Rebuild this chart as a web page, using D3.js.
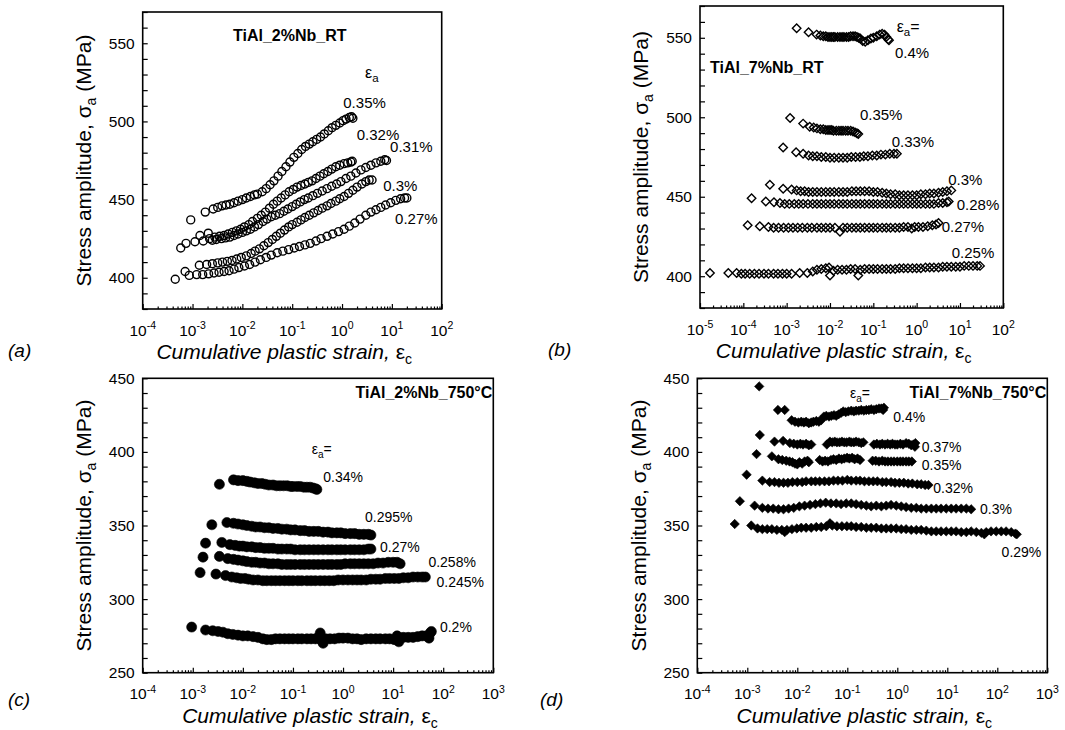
<!DOCTYPE html>
<html>
<head>
<meta charset="utf-8">
<script src="https://cdn.jsdelivr.net/npm/d3@7"></script>
<style>
  body { margin: 0; background: #fff; }
  svg text { font-family: "Liberation Sans", Arial, sans-serif; fill: #000; }
</style>
</head>
<body>
<svg id="chart" width="1065" height="730"></svg>
<script>
// ---- panel (a) TiAl_2%Nb_RT : [cumulative plastic strain, stress amplitude]
const a035 = [[9.2e-4,437],[1.8e-3,442],[2.6e-3,444],[3.2e-3,445],[3.9e-3,446],[4.7e-3,446.5],[5.6e-3,447],[6.8e-3,448],[8.2e-3,449],[0.01,450],[0.012,451],[0.0145,452],[0.0175,453],[0.02,453.5],[0.025,455],[0.03,457],[0.036,459.5],[0.043,462],[0.052,465],[0.062,468],[0.075,471],[0.09,474],[0.108,477],[0.13,479.5],[0.155,482],[0.185,484],[0.22,485.5],[0.26,487],[0.31,488.5],[0.37,490],[0.44,492],[0.53,494],[0.63,496],[0.75,497.5],[0.9,499],[1.05,500.5],[1.2,501.5],[1.4,502.5],[1.55,503],[1.65,502]];
const a032 = [[5.8e-4,419],[1.12e-3,423],[1.64e-3,423.5],[2.2e-3,425],[2.8e-3,426],[3.5e-3,426.5],[4.3e-3,427],[5.2e-3,428],[6.3e-3,429],[7.6e-3,430],[9.2e-3,431],[0.011,432.5],[0.0135,434],[0.016,436],[0.02,438],[0.024,440],[0.029,442],[0.035,444.5],[0.042,447],[0.05,449],[0.06,451],[0.072,453],[0.087,455],[0.105,456.5],[0.125,458],[0.15,459],[0.18,460],[0.21,461],[0.25,462],[0.3,463.5],[0.36,465],[0.43,466.5],[0.52,468],[0.62,469.5],[0.75,471],[0.9,472],[1.1,473],[1.3,473.5],[1.5,474],[1.6,474.5]];
const a031 = [[7.4e-4,422],[1.41e-3,427],[2.07e-3,428.5],[2.5e-3,424],[3e-3,424.5],[3.8e-3,425],[4.6e-3,425.5],[5.6e-3,426],[6.8e-3,427],[8.2e-3,428],[0.01,429],[0.012,430],[0.0145,431],[0.0175,432.5],[0.021,434],[0.026,436],[0.031,437.5],[0.038,439],[0.046,440],[0.056,441],[0.068,442.5],[0.082,444],[0.1,445.5],[0.12,447],[0.145,448.5],[0.175,450],[0.21,451],[0.26,452.5],[0.32,454],[0.4,455.5],[0.5,457],[0.62,458.5],[0.78,460],[0.95,461.5],[1.2,463.5],[1.5,465],[1.9,467],[2.4,469],[3,470.5],[3.8,472],[4.8,473.5],[6,474.5],[7.2,475.5],[7.8,475]];
const a030 = [[7.1e-4,404],[1.37e-3,408],[1.92e-3,408.5],[2.5e-3,409],[3.2e-3,409.5],[4e-3,410],[5e-3,410.5],[6.2e-3,411],[7.7e-3,412],[9.5e-3,413],[0.012,414],[0.015,415.5],[0.018,417],[0.022,418.5],[0.027,420.5],[0.033,422.5],[0.04,424.5],[0.048,426.5],[0.058,428.5],[0.07,430.5],[0.085,432.5],[0.1,434],[0.125,435.5],[0.15,437],[0.18,438.5],[0.22,440],[0.27,441.5],[0.33,443],[0.4,444.5],[0.5,446],[0.6,447.5],[0.75,449],[0.9,450.5],[1.1,452],[1.35,454],[1.65,456],[2,458],[2.5,460],[3,461.5],[3.5,462.5],[4,462.5]];
const a027 = [[4.5e-4,399],[8.6e-4,401.5],[1.21e-3,402],[1.6e-3,402],[2.1e-3,402.5],[2.7e-3,403],[3.4e-3,403.5],[4.3e-3,404],[5.4e-3,404.5],[6.8e-3,405.5],[8.5e-3,406.5],[0.011,407.5],[0.014,408.5],[0.018,410],[0.023,411.5],[0.03,413],[0.038,414.5],[0.05,416],[0.065,417],[0.085,418],[0.11,419],[0.14,420],[0.18,421],[0.23,422],[0.3,423.5],[0.38,425],[0.5,426.5],[0.65,428],[0.85,429.5],[1.1,431],[1.4,433],[1.8,435],[2.3,437.5],[3,440],[3.8,442],[4.8,443.5],[6,445],[7.5,446.5],[9.5,448],[12,449.5],[15,450.5],[18,451],[20,451]];

// ---- panel (b) TiAl_7%Nb_RT
const b040 = [[1.7e-3,556],[3.2e-3,553.5],[4.9e-3,552],[6e-3,551.5],[7e-3,551],[8e-3,551],[9e-3,550.5],[0.01,550.5],[0.011,550.5],[0.012,550.5],[0.013,550.5],[0.015,550.5],[0.017,550.5],[0.019,550.5],[0.021,550.5],[0.024,550.5],[0.027,550.5],[0.03,551],[0.034,551],[0.038,551],[0.042,550.5],[0.046,550],[0.05,549.5],[0.057,548],[0.065,547.5],[0.075,548.5],[0.088,549.5],[0.1,550],[0.12,551],[0.14,552],[0.16,552.5],[0.18,552],[0.2,550.5],[0.22,549],[0.23,548.5]];
const b035 = [[1.2e-3,499.5],[2.4e-3,496],[3.4e-3,494],[4.2e-3,493.5],[5e-3,493],[6e-3,492.5],[7e-3,492.5],[8e-3,492],[9e-3,492],[0.01,492],[0.011,492],[0.012,491.5],[0.014,491.5],[0.016,491.5],[0.018,491.5],[0.02,491.5],[0.023,491.5],[0.026,491.5],[0.03,491.5],[0.034,491],[0.038,490.5],[0.042,490],[0.045,489.5]];
const b033 = [[8.3e-4,481],[1.65e-3,478],[2.4e-3,477],[3.2e-3,476],[4e-3,475.5],[5e-3,475.5],[6.3e-3,475],[8e-3,475],[0.01,474.5],[0.0125,474.5],[0.016,474.5],[0.02,474.5],[0.025,474.5],[0.031,475],[0.039,475],[0.049,475],[0.06,475.5],[0.075,475.5],[0.095,476],[0.12,476],[0.15,476.5],[0.19,476.5],[0.24,477],[0.3,477],[0.35,477]];
const b030 = [[4.1e-4,457.5],[8.3e-4,455],[1.3e-3,454.5],[1.7e-3,454],[2.1e-3,453.5],[2.6e-3,453.5],[3.2e-3,453],[4e-3,453],[5e-3,453],[6.3e-3,453],[8e-3,453],[0.01,453],[0.0125,453],[0.016,453],[0.02,453],[0.025,453],[0.032,453.5],[0.04,453.5],[0.05,453.5],[0.063,453.5],[0.08,453.5],[0.1,453],[0.125,453],[0.16,452.5],[0.2,452],[0.25,451.5],[0.32,451.5],[0.4,451],[0.5,451],[0.63,451],[0.8,451],[1,451],[1.25,451.5],[1.6,451.5],[2,452],[2.5,452],[3.2,452.5],[4,453],[5,453.5],[6.3,454]];
const b028 = [[1.55e-4,449],[3.3e-4,447],[5.1e-4,446.5],[7e-4,446],[9e-4,445.5],[1.15e-3,445.5],[1.5e-3,445.5],[1.9e-3,445.5],[2.4e-3,445.5],[3.1e-3,445.5],[4e-3,445.5],[5e-3,445.5],[6.3e-3,445.5],[8e-3,445.5],[0.01,445.5],[0.0125,445.5],[0.016,445.5],[0.02,445.5],[0.025,445.5],[0.032,445.5],[0.04,445.5],[0.05,445.5],[0.063,445.5],[0.08,445.5],[0.1,445.5],[0.125,445.5],[0.16,445.5],[0.2,445.5],[0.25,445.5],[0.32,445.5],[0.4,445.5],[0.5,445.5],[0.63,445.5],[0.8,445.5],[1,445.5],[1.25,445.5],[1.6,445.5],[2,445.5],[2.5,445.5],[3.2,446],[4,446],[5,446.5],[5.5,447]];
const b027 = [[1.26e-4,432],[2.4e-4,431.5],[3.8e-4,431],[5e-4,430.5],[6.5e-4,430.5],[8.5e-4,430.5],[1.1e-3,430.5],[1.4e-3,430.5],[1.8e-3,430.5],[2.3e-3,430.5],[3e-3,430.5],[3.8e-3,430.5],[5e-3,430.5],[6.3e-3,430.5],[8e-3,430.5],[0.01,430.5],[0.013,430.5],[0.017,428],[0.02,430.5],[0.025,430.5],[0.032,430.5],[0.04,430.5],[0.05,430.5],[0.063,430.5],[0.08,430.5],[0.1,430.5],[0.125,430.5],[0.16,430.5],[0.2,430.5],[0.25,430.5],[0.32,430.5],[0.4,430.5],[0.5,431],[0.63,431],[0.77,430],[0.9,431],[1.1,431],[1.4,431],[1.8,431.5],[2.3,432],[2.8,432.5],[3.2,433.5]];
const b025 = [[1.7e-5,402],[4.5e-5,402],[7e-5,402],[9e-5,401.5],[1.1e-4,401.5],[1.4e-4,401.5],[1.8e-4,401.5],[2.3e-4,401.5],[3e-4,401.5],[3.8e-4,401.5],[5e-4,401.5],[6.3e-4,401.5],[8e-4,401.5],[1e-3,401.5],[1.3e-3,401.5],[2e-3,402],[3e-3,402],[4e-3,403],[5e-3,404],[6.3e-3,404.5],[8e-3,405],[9.5e-3,405.5],[0.01,400.5],[0.012,403.5],[0.015,404],[0.019,404],[0.024,404],[0.03,404.5],[0.038,404.5],[0.045,400.5],[0.05,404],[0.063,404.5],[0.08,404.5],[0.1,404.5],[0.125,404.5],[0.16,404.5],[0.2,404.5],[0.25,404.5],[0.32,404.5],[0.4,405],[0.5,405],[0.63,405],[0.8,405],[1,405],[1.25,405],[1.6,405.5],[2,405.5],[2.5,405.5],[3.2,405.5],[4,406],[5,406],[6.3,406],[8,406],[10,406],[12.5,406.5],[16,406.5],[20,406.5],[25,406.5],[29,406.5]];

// ---- panel (c) TiAl_2%Nb_750°C
const c034 = [[3.4e-3,378],[6.5e-3,381],[8e-3,380.5],[0.01,380.5],[0.012,380],[0.014,379.5],[0.017,379],[0.02,378.5],[0.024,378.5],[0.028,378],[0.033,377.5],[0.04,377.5],[0.047,377],[0.055,377],[0.065,377],[0.077,377],[0.09,376.5],[0.1,376.5],[0.12,376.5],[0.14,376.5],[0.165,376],[0.19,376],[0.22,376],[0.25,375.5],[0.28,375],[0.3,374.5]];
const c0295 = [[2.4e-3,350.5],[4.8e-3,352],[6.5e-3,351.5],[8e-3,351],[0.01,350.5],[0.012,350],[0.015,349.5],[0.018,349],[0.022,349],[0.027,348.5],[0.033,348.5],[0.04,348],[0.05,348],[0.06,347.5],[0.075,347.5],[0.09,347],[0.11,347],[0.14,346.5],[0.17,346.5],[0.21,346],[0.26,346],[0.32,346],[0.4,345.5],[0.5,345.5],[0.6,345],[0.75,345],[0.9,345],[1.1,344.5],[1.4,344.5],[1.7,344.5],[2.1,344],[2.6,344],[3.2,344],[3.6,343.5]];
const c027 = [[1.8e-3,338],[3.8e-3,338.5],[5.5e-3,337],[7e-3,336.5],[8.5e-3,336],[0.01,336],[0.012,335.5],[0.015,335.5],[0.018,335],[0.022,335],[0.027,334.5],[0.033,334.5],[0.04,334.5],[0.05,334],[0.06,334],[0.075,334],[0.09,334],[0.11,333.5],[0.14,333.5],[0.17,333.5],[0.21,333.5],[0.26,333.5],[0.32,333.5],[0.4,333.5],[0.5,333.5],[0.6,333.5],[0.75,333.5],[0.9,333.5],[1.1,333.5],[1.4,333.5],[1.7,333.5],[2.1,333.5],[2.6,333.5],[3.2,334],[3.6,334]];
const c0258 = [[1.6e-3,328.5],[3.4e-3,329],[5e-3,327.5],[6.5e-3,327],[8e-3,326.5],[0.01,326],[0.012,325.5],[0.015,325],[0.018,325],[0.022,324.5],[0.027,324.5],[0.033,324],[0.04,324],[0.05,324],[0.06,323.5],[0.075,323.5],[0.09,323.5],[0.11,323.5],[0.14,323.5],[0.17,323.5],[0.21,323.5],[0.26,323.5],[0.32,323.5],[0.4,323.5],[0.5,323.5],[0.6,323.5],[0.75,323.5],[0.9,323.5],[1.1,324],[1.4,324],[1.7,324],[2.1,324],[2.6,324],[3.2,324],[4,324],[5,324.5],[6.3,324.5],[8,325],[10,325],[12,325],[13.8,324]];
const c0245 = [[1.4e-3,318],[2.9e-3,317],[4.5e-3,316],[6e-3,315],[7.5e-3,314.5],[9e-3,314],[0.011,314],[0.013,313.5],[0.016,313],[0.02,313],[0.025,312.5],[0.03,312.5],[0.037,312.5],[0.045,312.5],[0.055,312.5],[0.068,312.5],[0.083,312.5],[0.1,312.5],[0.125,312.5],[0.15,312.5],[0.19,312.5],[0.23,312.5],[0.28,312.5],[0.35,312.5],[0.43,312.5],[0.53,312.5],[0.65,312.5],[0.8,313],[1,313],[1.25,313],[1.55,313],[1.9,313],[2.3,313],[2.9,313],[3.6,313.5],[4.5,313.5],[5.5,313.5],[7,314],[8.5,314],[10.5,314],[13,314],[16,314.5],[20,314.5],[25,315],[31,315],[38,315],[44,315]];
const c020 = [[9.5e-4,281],[1.8e-3,279],[2.5e-3,278.5],[3.2e-3,278],[4e-3,277.5],[5e-3,276.5],[6.3e-3,276],[8e-3,275.5],[0.01,275],[0.0125,275],[0.016,274.5],[0.02,274],[0.025,273],[0.03,272.5],[0.037,272.5],[0.045,273],[0.055,273],[0.068,273],[0.083,273],[0.1,273],[0.125,273],[0.15,273],[0.19,273],[0.23,273],[0.28,273],[0.32,274],[0.35,277],[0.37,272],[0.4,270],[0.45,273],[0.55,273],[0.68,273],[0.83,273.5],[1,273.5],[1.25,273.5],[1.55,273],[1.9,273],[2.3,272.5],[2.9,273],[3.6,273],[4.5,273],[5.5,273],[7,273],[8.5,273],[10.5,272.5],[12,275],[13,271],[16,274],[20,274],[25,274],[31,274.5],[38,275],[46,275],[52,273.5],[55,277],[58,278]];

// ---- panel (d) TiAl_7%Nb_750°C
const d040 = [[1.73e-3,444.5],[4.1e-3,428.5],[5.6e-3,428.5],[7.7e-3,421.5],[9e-3,420.5],[0.0105,420],[0.012,420.5],[0.0135,420],[0.015,420.5],[0.017,419.5],[0.019,420],[0.021,420.5],[0.024,421],[0.027,420.5],[0.03,421.5],[0.034,424],[0.038,424.5],[0.043,424],[0.048,424.5],[0.054,425],[0.06,424.5],[0.067,425.5],[0.075,426.5],[0.083,427.5],[0.093,427],[0.105,427.5],[0.12,428],[0.135,427.5],[0.15,428],[0.17,428],[0.19,428.5],[0.215,428],[0.24,428.5],[0.27,428.5],[0.3,429],[0.34,428.5],[0.38,429],[0.43,429.5],[0.48,429.5],[0.52,428.5],[0.54,430]];
const d037 = [[1.78e-3,411.5],[3.5e-3,407],[5.2e-3,407.5],[7.1e-3,406],[8.5e-3,405.5],[0.01,405],[0.0115,405.5],[0.013,405],[0.015,405.5],[0.017,404.5],[0.019,405],[0.039,405],[0.045,407],[0.05,406.5],[0.056,407],[0.062,406.5],[0.07,406.5],[0.078,407],[0.087,406.5],[0.097,406.5],[0.11,407],[0.12,406.5],[0.135,406.5],[0.15,407],[0.17,406.5],[0.19,406],[0.21,406.5],[0.34,405],[0.39,405.5],[0.45,405],[0.5,405.5],[0.57,405],[0.64,405.5],[0.72,405],[0.8,405.5],[0.9,405],[1,405],[1.15,405.5],[1.3,405],[1.5,406],[1.7,405.5],[1.9,404.5],[2.1,405],[2.25,403.5],[2.3,406]];
const d035 = [[1.53e-3,398.5],[3.1e-3,397],[4.2e-3,395],[5e-3,394.5],[6e-3,394],[7e-3,393.5],[8e-3,393],[9e-3,392],[0.01,391.5],[0.011,393],[0.0125,392],[0.014,393.5],[0.016,394],[0.017,393],[0.028,394.5],[0.032,393.5],[0.036,394],[0.041,393.5],[0.047,394.5],[0.053,395],[0.06,394.5],[0.068,395.5],[0.077,395],[0.087,395.5],[0.099,396],[0.11,395.5],[0.125,396],[0.14,395],[0.16,395.5],[0.18,394.5],[0.32,394],[0.37,394],[0.43,393.5],[0.5,394],[0.57,393.5],[0.65,393.5],[0.75,393.5],[0.86,393.5],[1,393.5],[1.15,393.5],[1.3,393.5],[1.5,393.5],[1.7,393.5],[1.95,393.5]];
const d032 = [[9.7e-4,384.5],[2e-3,380.5],[2.8e-3,379.5],[3.5e-3,379.5],[4.3e-3,379],[5.3e-3,379],[6.5e-3,379],[8e-3,379.5],[0.01,379.5],[0.0125,379.5],[0.015,380],[0.019,380],[0.023,380],[0.028,380],[0.035,380],[0.043,380],[0.053,380.5],[0.065,380.5],[0.08,380.5],[0.1,381],[0.12,380.5],[0.15,380.5],[0.18,380.5],[0.22,380],[0.27,380],[0.33,380],[0.4,380],[0.5,379.5],[0.6,379.5],[0.75,379.5],[0.9,379],[1.1,379],[1.35,379],[1.65,378.5],[2,378.5],[2.5,378],[3,378],[3.6,377.5],[4.2,377.5]];
const d030 = [[7.1e-4,366.5],[1.4e-3,363.5],[2e-3,362],[2.6e-3,361.5],[3.3e-3,361.5],[4.2e-3,361],[5.3e-3,361],[6.7e-3,361.5],[8.5e-3,362],[0.011,363],[0.014,363.5],[0.018,364],[0.023,364.5],[0.029,365],[0.037,365.5],[0.047,365],[0.06,365],[0.075,364.5],[0.095,365],[0.12,365],[0.15,364.5],[0.19,364],[0.24,363.5],[0.3,363],[0.38,363.5],[0.48,363],[0.6,363.5],[0.75,364],[0.95,363.5],[1.2,363],[1.5,362.5],[1.9,362],[2.4,362],[3,361.5],[3.8,361.5],[4.8,361.5],[6,361.5],[7.5,361.5],[9.5,361.5],[12,361.5],[15,361.5],[19,361.5],[24,361.5],[30,361]];
const d029 = [[5.6e-4,351],[1.2e-3,350],[1.6e-3,348],[2e-3,347.5],[2.5e-3,347.5],[3.1e-3,347.5],[3.9e-3,347],[4.9e-3,347],[5.6e-3,345.5],[6.2e-3,347],[7.8e-3,347.5],[9.8e-3,348],[0.012,348.5],[0.015,348.5],[0.019,348.5],[0.024,349],[0.03,349],[0.038,349.5],[0.045,351.5],[0.05,350],[0.062,349.5],[0.078,349.5],[0.098,349.5],[0.12,349.5],[0.15,349],[0.19,349],[0.24,348.5],[0.3,348.5],[0.38,348.5],[0.48,348],[0.6,348],[0.75,348],[0.95,348],[1.2,347.5],[1.5,347.5],[1.9,347],[2.4,347],[3,347],[3.8,346.5],[4.8,346],[6,346],[7.5,346],[9.5,346],[12,346],[15,346],[19,345.5],[24,345.5],[30,346],[38,345.5],[48,345],[55,344],[60,345.5],[75,346],[95,346],[120,346],[150,346],[190,345.5],[230,344.5],[245,344]];

// strain amplitude labels: [text, x, y] in data units
const aLabels = [["0.35%",1.06,508.3],["0.32%",1.97,488.1],["0.31%",9.2,480.6],["0.3%",6.7,455.2],["0.27%",11.6,434.6]];
const bLabels = [["0.4%",0.316,537.3],["0.35%",0.049,498.3],["0.33%",0.265,481.5],["0.3%",5.37,457.4],["0.28%",8.4,441.7],["0.27%",3.78,428],["0.25%",6.44,411.2]];
const cLabels = [["0.34%",0.404,379.8],["0.295%",2.74,352.6],["0.27%",5.46,332.2],["0.258%",50.6,322],["0.245%",73.5,308.4],["0.2%",86,277.9]];
const dLabels = [["0.4%",0.83,420.5],["0.37%",3.08,400.1],["0.35%",3.08,387.9],["0.32%",5.25,371.9],["0.3%",45,357.8],["0.29%",122,328.8]];

const panels = [
  { tag: "(a)", tagXY: [8, 357], box: [142.7, 12, 441.7, 309], xDomain: [1e-4, 1e2], yDomain: [380, 570],
    marker: "circle", filled: false, size: 50, series: [a035, a032, a031, a030, a027],
    labels: aLabels, labelSize: 15, title: ["TiAl_2%Nb_RT", 6.5e-3, 551.4, "start"],
    eps: [2.89, 527.6, "", 16] },
  { tag: "(b)", tagXY: [548, 356], box: [700, 6, 1003.3, 308], xDomain: [1e-5, 1e2], yDomain: [380, 570],
    marker: "diamond", filled: false, size: 36, series: [b040, b035, b033, b030, b028, b027, b025],
    labels: bLabels, labelSize: 15, title: ["TiAl_7%Nb_RT", 1.7e-5, 528.1, "start"],
    eps: [0.347, 553.7, "=", 16] },
  { tag: "(c)", tagXY: [8, 706], box: [142.7, 378.3, 493.3, 672.7], xDomain: [1e-4, 1e3], yDomain: [250, 450],
    marker: "circle", filled: true, size: 80, series: [c034, c0295, c027, c0258, c0245, c020],
    labels: cLabels, labelSize: 14, title: ["TiAl_2%Nb_750°C", 1e3, 436.6, "end"],
    eps: [0.237, 398.6, "=", 14] },
  { tag: "(d)", tagXY: [540, 706], box: [697.3, 378.3, 1047.3, 672.7], xDomain: [1e-4, 1e3], yDomain: [250, 450],
    marker: "diamond", filled: true, size: 44, series: [d040, d037, d035, d032, d030, d029],
    labels: dLabels, labelSize: 14, title: ["TiAl_7%Nb_750°C", 1e3, 436.6, "end"],
    eps: [0.113, 436.6, "=", 14] }
];

// square diamond (d3.symbolDiamond is too tall)
const squareDiamond = {
  draw(ctx, size) {
    const r = Math.sqrt(size / 2);
    ctx.moveTo(0, -r); ctx.lineTo(r, 0); ctx.lineTo(0, r); ctx.lineTo(-r, 0); ctx.closePath();
  }
};

const svg = d3.select("#chart");

panels.forEach(p => {
  const [x0, y0, x1, y1] = p.box;
  const x = d3.scaleLog().domain(p.xDomain).range([x0, x1]);
  const y = d3.scaleLinear().domain(p.yDomain).range([y1, y0]);
  const g = svg.append("g");

  // x ticks: decades + 2..9 minors, pointing inward
  const e0 = Math.round(Math.log10(p.xDomain[0])), e1 = Math.round(Math.log10(p.xDomain[1]));
  const exps = d3.range(e0, e1 + 1);
  const minors = [];
  exps.slice(0, -1).forEach(e => { for (let k = 2; k <= 9; k++) minors.push(k * Math.pow(10, e)); });

  g.append("g").attr("transform", `translate(0,${y1})`)
    .call(d3.axisBottom(x).tickValues(minors).tickSize(-2.5).tickFormat(""))
    .call(a => a.select(".domain").remove());
  g.append("g").attr("transform", `translate(0,${y1})`)
    .call(d3.axisBottom(x).tickValues(exps.map(e => Math.pow(10, e))).tickSize(-5).tickFormat(""))
    .call(a => a.select(".domain").remove());
  g.selectAll("line").attr("stroke", "#000").attr("stroke-width", 1.2);

  const xl = g.append("g").selectAll("text").data(exps).join("text")
    .attr("x", e => x(Math.pow(10, e))).attr("y", y1 + 26.5)
    .attr("text-anchor", "middle").attr("font-size", 15.5);
  xl.append("tspan").text("10");
  xl.append("tspan").attr("dy", -6.5).attr("font-size", 10.5).text(e => String(e));

  // y ticks every 10, labels every 50
  const yTicks = d3.range(p.yDomain[0], p.yDomain[1] + 0.1, 10);
  const ya = g.append("g").attr("transform", `translate(${x0},0)`)
    .call(d3.axisLeft(y).tickValues(yTicks).tickSize(-5).tickPadding(8)
      .tickFormat(v => v % 50 === 0 ? String(v) : ""));
  ya.select(".domain").remove();
  ya.selectAll("line").attr("stroke", "#000").attr("stroke-width", 1.2);
  ya.selectAll("text").attr("font-size", 15.5).attr("font-family", "Liberation Sans, Arial, sans-serif").attr("fill", "#000");

  // frame
  g.append("rect").attr("x", x0).attr("y", y0).attr("width", x1 - x0).attr("height", y1 - y0)
    .attr("fill", "none").attr("stroke", "#000").attr("stroke-width", 1.6);

  // markers
  const sym = d3.symbol(p.marker === "circle" ? d3.symbolCircle : squareDiamond, p.size);
  p.series.forEach(s => {
    g.append("g").selectAll("path").data(s).join("path")
      .attr("transform", d => `translate(${x(d[0])},${y(d[1])})`)
      .attr("d", sym)
      .attr("fill", p.filled ? "#000" : "none")
      .attr("stroke", "#000")
      .attr("stroke-width", p.filled ? 0.6 : 1.4);
  });

  // amplitude labels
  g.append("g").selectAll("text").data(p.labels).join("text")
    .attr("x", d => x(d[1])).attr("y", d => y(d[2]))
    .attr("font-size", p.labelSize).text(d => d[0]);

  // epsilon_a label
  const eps = g.append("text").attr("x", x(p.eps[0])).attr("y", y(p.eps[1])).attr("font-size", p.eps[3]);
  eps.append("tspan").text("ε");
  eps.append("tspan").attr("dy", 4).attr("font-size", p.eps[3] * 0.72).text("a");
  eps.append("tspan").attr("dy", -4).text(p.eps[2]);

  // panel title
  g.append("text").attr("x", x(p.title[1])).attr("dx", p.title[3] === "end" ? -1 : 0)
    .attr("y", y(p.title[2])).attr("text-anchor", p.title[3])
    .attr("font-size", 16).attr("font-weight", "bold").text(p.title[0]);

  // axis titles
  const yt = g.append("text")
    .attr("transform", `translate(${x0 - 59},${(y0 + y1) / 2}) rotate(-90)`)
    .attr("text-anchor", "middle").attr("dy", "0.35em").attr("font-size", 21);
  yt.append("tspan").text("Stress amplitude, σ");
  yt.append("tspan").attr("dy", 5).attr("font-size", 14).text("a");
  yt.append("tspan").attr("dy", -5).text(" (MPa)");

  const xt = g.append("text")
    .attr("x", (x0 + x1) / 2 - 8).attr("y", y1 + 50)
    .attr("text-anchor", "middle").attr("font-size", 21);
  xt.append("tspan").attr("font-style", "italic").text("Cumulative plastic strain, ");
  xt.append("tspan").text("ε");
  xt.append("tspan").attr("dy", 5).attr("font-size", 14).text("c");

  // panel tag
  svg.append("text").attr("x", p.tagXY[0]).attr("y", p.tagXY[1])
    .attr("font-family", "Liberation Serif, Times New Roman, serif")
    .attr("font-style", "italic").attr("font-size", 19).text(p.tag);
});
</script>
</body>
</html>
